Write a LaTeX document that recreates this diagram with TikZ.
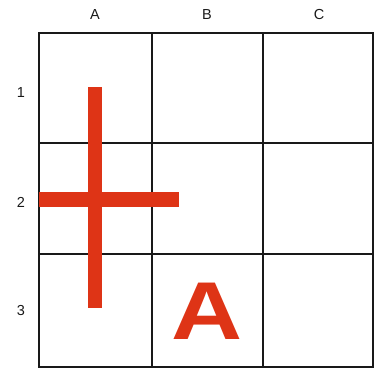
\documentclass[tikz,border=0pt]{standalone}
\usepackage{fontspec}
\setmainfont{Liberation Sans}
\definecolor{redA}{RGB}{222,52,22}
\begin{document}
\begin{tikzpicture}[x=1pt,y=-1pt,
  gridline/.style={line width=1.3pt,black!90},
  lbl/.style={font=\fontsize{14.5}{14.5}\selectfont,text=black!90},
  bar/.style={fill=redA,draw=none}]
\useasboundingbox (0,0) rectangle (379,369);
% grid
\draw[gridline] (39,33) rectangle (373,367);
\draw[gridline] (152,33) -- (152,367) (263,33) -- (263,367);
\draw[gridline] (39,143) -- (373,143) (39,254) -- (373,254);
% labels
\node[lbl] (cA) at (95,15) {A};
\node[lbl] (cB) at (207,15) {B};
\node[lbl] (cC) at (319,15) {C};
\node[lbl] (r1) at (21,93) {1};
\node[lbl] (r2) at (21,202) {2};
\node[lbl] (r3) at (21,311) {3};
% cross
\fill[bar] (88,87) rectangle (102,308);
\fill[bar] (39,192) rectangle (179,207);
% letter A
\node[text=redA,font=\fontsize{82}{82}\selectfont\bfseries,xscale=1.2,inner sep=0pt,anchor=base] (bigA) at (207,339) {A};
\end{tikzpicture}
\end{document}
